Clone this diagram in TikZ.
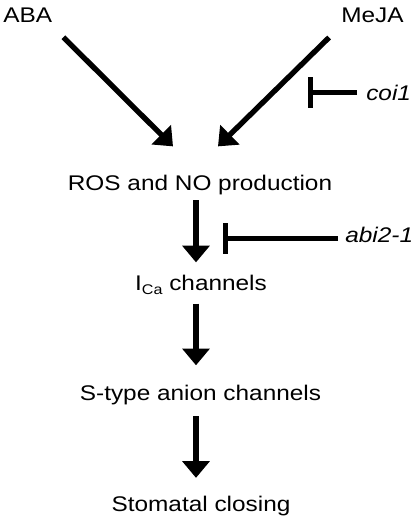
\documentclass[tikz,border=0pt]{standalone}
\usepackage{fontspec}
\setmainfont{Liberation Sans}
\usetikzlibrary{arrows.meta,calc}
\tikzset{
  lbl/.style={font=\fontsize{15.9}{18}\selectfont, xscale=1.15, inner sep=0pt},
  arr/.style={line width=4pt, -{Triangle[length=12.5pt,width=20pt]}},
  inh/.style={line width=4pt, -{Bar[width=23pt]}}
}
\begin{document}
\begin{tikzpicture}[x=0.75pt,y=-0.75pt]
    \useasboundingbox (0,0) rectangle (415,519);
    \node[lbl,anchor=base west] (aba) at (3,22) {ABA};
    \node[lbl,anchor=base east] (meja) at (404,22) {MeJA};
    \node[lbl,anchor=base] (ros) at (200,190) {ROS and NO production};
    \node[lbl,anchor=base] (ica) at (201,290) {I\raisebox{-3.5pt}{\fontsize{10.5}{12}\selectfont Ca} channels};
    \node[lbl,anchor=base] (stype) at (200.5,400) {S-type anion channels};
    \node[lbl,anchor=base] (close) at (201,511.5) {Stomatal closing};
    \node[lbl,anchor=base west] (coi) at (366,100) {\itshape coi1};
    \node[lbl,anchor=base west] (abi) at (345,242) {\itshape abi2-1};
    \coordinate (col) at (196,0);
    \draw[arr] ($(aba.south east)+(11,15)$) -- ($(ros.north)+(-27,-28)$);
    \draw[arr] ($(meja.south west)+(-12,15)$) -- ($(ros.north)+(18,-28)$);
    \draw[arr,shorten <=4.2pt,shorten >=9pt] (ros.south -| col) -- (ica.north -| col);
    \draw[arr,shorten <=6.5pt,shorten >=14.3pt] (ica.south -| col) -- (stype.north -| col);
    \draw[arr,shorten <=8.7pt,shorten >=13.5pt] (stype.south -| col) -- (close.north -| col);
    \draw[inh] (coi.west) ++(-9,0) -- ++(-49,0);
    \draw[inh] ([yshift=-3pt]abi.west) ++(-7,0) -- ++(-115,0);
\end{tikzpicture}
\end{document}
